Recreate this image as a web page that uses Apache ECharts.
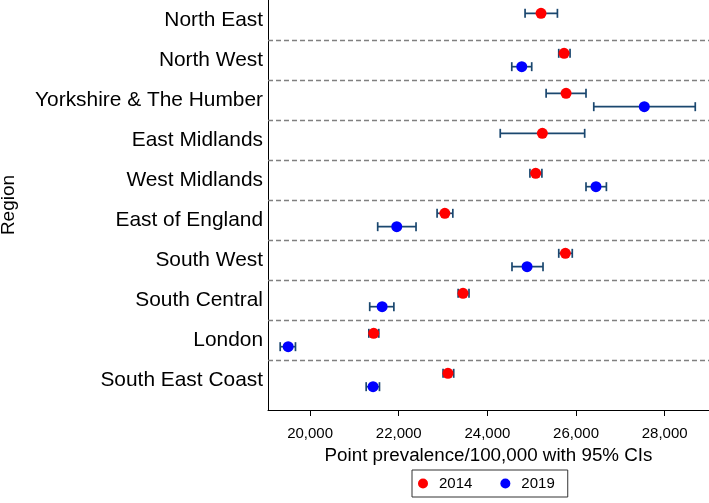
<!DOCTYPE html>
<html>
<head>
<meta charset="utf-8">
<script src="https://cdn.jsdelivr.net/npm/echarts@6/dist/echarts.min.js"></script>
<style>
html,body{margin:0;padding:0;background:#fff;}
#chart{width:709px;height:503px;}
</style>
</head>
<body>
<div id="chart"></div>
<script>
var regions = ["North East","North West","Yorkshire & The Humber","East Midlands","West Midlands","East of England","South West","South Central","London","South East Coast"];
// 2014: point, lower, upper
var est2014 = [25210, 25730, 25775, 25240, 25090, 23040, 25760, 23450, 21435, 23110];
var lo2014  = [24850, 25610, 25325, 24290, 24960, 22865, 25610, 23340, 21325, 23000];
var hi2014  = [25580, 25865, 26225, 26195, 25230, 23220, 25915, 23585, 21550, 23240];
// 2019: point, lower, upper (null = not available)
var est2019 = [null, 24775, 27540, null, 26450, 21955, 24895, 21625, 19505, 21420];
var lo2019  = [null, 24550, 26400, null, 26225, 21525, 24555, 21345, 19325, 21265];
var hi2019  = [null, 25000, 28690, null, 26685, 22390, 25255, 21890, 19670, 21565];
var xTicks = [20000, 22000, 24000, 26000, 28000];
var seriesNames = ["2014", "2019"];

var FONT = "'Liberation Sans', Arial, sans-serif";
var OFF = 0.167;
var rowIdx = regions.map(function(_, i){ return i; });

function fmt(v){ return String(v).replace(/\B(?=(\d{3})+(?!\d))/g, ","); }

function pts(est, off){
  var out = [];
  est.forEach(function(v, i){ if (v != null) out.push([v, i + off]); });
  return out;
}
function bars(lo, hi, off){
  var out = [];
  lo.forEach(function(v, i){ if (v != null) out.push([v, hi[i], i + off]); });
  return out;
}
function renderBar(params, api){
  var a = api.coord([api.value(0), api.value(2)]);
  var b = api.coord([api.value(1), api.value(2)]);
  var h = 4.5;
  var st = {stroke: '#1a476f', lineWidth: 1.7, fill: null};
  return {type: 'group', children: [
    {type: 'line', shape: {x1: a[0], y1: a[1], x2: b[0], y2: b[1]}, style: st},
    {type: 'line', shape: {x1: a[0], y1: a[1]-h, x2: a[0], y2: a[1]+h}, style: st},
    {type: 'line', shape: {x1: b[0], y1: b[1]-h, x2: b[0], y2: b[1]+h}, style: st}
  ]};
}

var sepLines = [];
for (var k = 0; k < regions.length - 1; k++) sepLines.push({yAxis: k + 0.5});

var chart = echarts.init(document.getElementById('chart'), null, {renderer: 'canvas'});
chart.setOption({
  animation: false,
  backgroundColor: '#fff',
  textStyle: {fontFamily: FONT},
  grid: {left: 268, right: 0, top: 0, height: 410, containLabel: false, outerBoundsMode: 'none'},
  legend: {
    data: seriesNames,
    left: 412, top: 470,
    height: 30,
    padding: [6, 13, 6, 6],
    borderColor: '#333', borderWidth: 1,
    itemWidth: 10, itemHeight: 10, itemGap: 28,
    icon: 'circle',
    textStyle: {fontSize: 15, color: '#000', fontFamily: FONT, padding: [0, 0, 0, 6]}
  },
  xAxis: {
    type: 'value', min: 19050, max: 29000,
    name: 'Point prevalence/100,000 with 95% CIs',
    nameLocation: 'middle', nameGap: 29,
    nameTextStyle: {fontSize: 18.8, color: '#000', fontFamily: FONT},
    axisLine: {show: true, onZero: false, lineStyle: {color: '#000', width: 1}},
    axisTick: {show: true, length: 6, customValues: xTicks, lineStyle: {color: '#000'}},
    axisLabel: {customValues: xTicks, fontSize: 15, color: '#000', margin: 16, fontFamily: FONT,
      formatter: function(v){ return fmt(v); }},
    splitLine: {show: false}
  },
  yAxis: {
    type: 'value', inverse: true, min: -0.5, max: 9.75,
    name: 'Region', nameLocation: 'middle', nameRotate: 90, nameGap: 250,
    nameTextStyle: {fontSize: 19, color: '#000', fontFamily: FONT},
    axisLine: {show: true, onZero: false, lineStyle: {color: '#000', width: 1}},
    axisTick: {show: false},
    axisLabel: {customValues: rowIdx, fontSize: 20.9, color: '#000', margin: 5, fontFamily: FONT,
      formatter: function(v){ var i = Math.round(v); return regions[i] || ''; }},
    splitLine: {show: false}
  },
  series: [
    {
      type: 'custom', name: 'ci2014', renderItem: renderBar,
      encode: {x: [0, 1], y: 2}, data: bars(lo2014, hi2014, -OFF), z: 2, silent: true,
      markLine: {silent: true, symbol: 'none', label: {show: false},
        lineStyle: {type: [5, 3], color: '#808080', width: 1.3}, data: sepLines}
    },
    {
      type: 'custom', name: 'ci2019', renderItem: renderBar,
      encode: {x: [0, 1], y: 2}, data: bars(lo2019, hi2019, OFF), z: 2, silent: true
    },
    {
      type: 'scatter', name: seriesNames[0], data: pts(est2014, -OFF),
      symbol: 'circle', symbolSize: 11, itemStyle: {color: '#ff0000', opacity: 1}, z: 5
    },
    {
      type: 'scatter', name: seriesNames[1], data: pts(est2019, OFF),
      symbol: 'circle', symbolSize: 11, itemStyle: {color: '#0000ff', opacity: 1}, z: 5
    }
  ]
});
</script>
</body>
</html>
